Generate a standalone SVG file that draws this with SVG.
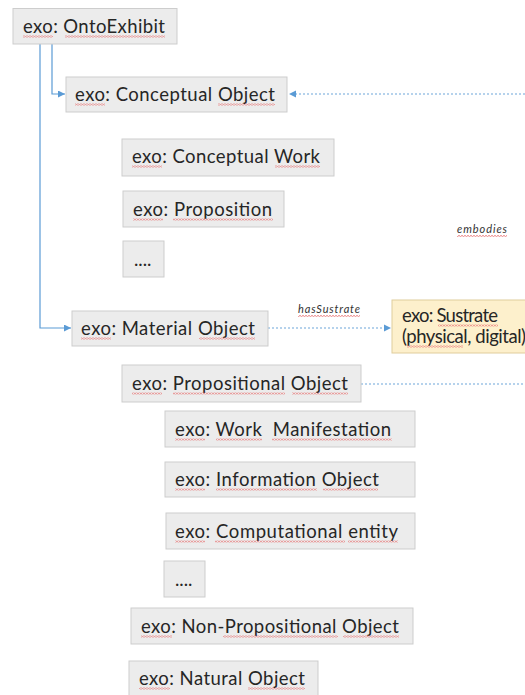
<svg xmlns="http://www.w3.org/2000/svg" width="525" height="695" viewBox="0 0 525 695">
  <style>
    .box { fill: #ececec; stroke: #cdcdcd; stroke-width: 1; }
    .note { fill: #fdf0cc; stroke: #e0cd9c; stroke-width: 1; }
    .lbl { font-family: "Lato", "Liberation Sans", sans-serif; font-size: 18.5px; fill: #262626; }
    .rel { font-family: "Lato", "Liberation Sans", sans-serif; font-size: 11px; font-style: italic; fill: #333333; }
    .sq { fill: url(#wave); }
    .link { fill: none; stroke: #5b9bd5; stroke-width: 1.2; }
    .dot { fill: none; stroke: #9dc3e6; stroke-width: 1.5; stroke-dasharray: 2 2; }
  </style>
  <defs>
    <marker id="tip" viewBox="0 0 10 10" refX="10" refY="5" markerWidth="7" markerHeight="7" markerUnits="userSpaceOnUse" orient="auto">
      <path d="M0,0 L10,5 L0,10 z" fill="#5b9bd5"/>
    </marker>
    <!-- proofing squiggle under flagged words -->
    <pattern id="wave" width="3" height="2" patternUnits="userSpaceOnUse">
      <path d="M0,1.6 L1.5,0.4 L3,1.6" fill="none" stroke="#e87a7a" stroke-width="1"/>
    </pattern>
  </defs>
  <rect width="525" height="695" fill="#ffffff"/>

  <!-- connectors -->
  <g id="connectors">
    <path class="link" d="M52,44 V94 H65" marker-end="url(#tip)"/>
    <path class="link" d="M40,44 V328 H71" marker-end="url(#tip)"/>
    <path class="dot" d="M525,94 H296"/>
    <path d="M289,94 l7,-3.5 v7 z" fill="#5b9bd5"/>
    <path class="dot" d="M268,328 H384"/>
    <path d="M391,328 l-7,-3.5 v7 z" fill="#5b9bd5"/>
    <path class="dot" d="M361,384 H525"/>
    <text class="rel" x="298" y="313" textLength="62">hasSustrate</text>
    <rect class="sq" x="298" y="315" width="62" height="2"/>
    <text class="rel" x="457" y="233" textLength="50">embodies</text>
    <rect class="sq" x="457" y="235" width="50" height="2"/>
  </g>

  <g id="onto-exhibit">
    <rect class="box" x="13" y="8.5" width="164" height="35.5"/>
    <text class="lbl" x="23" y="33" textLength="142">exo: OntoExhibit</text>
    <rect class="sq" x="23" y="35.5" width="30" height="2"/>
    <rect class="sq" x="65" y="35.5" width="100" height="2"/>
  </g>

  <g id="conceptual-object">
    <rect class="box" x="66" y="77" width="221" height="35"/>
    <text class="lbl" x="75" y="101" textLength="200">exo: Conceptual Object</text>
    <rect class="sq" x="75" y="103.5" width="30" height="2"/>
    <rect class="sq" x="218" y="103.5" width="57" height="2"/>
  </g>

  <g id="conceptual-work">
    <rect class="box" x="122" y="139" width="212" height="37"/>
    <text class="lbl" x="132" y="163" textLength="188">exo: Conceptual Work</text>
    <rect class="sq" x="132" y="165.5" width="30" height="2"/>
    <rect class="sq" x="275" y="165.5" width="45" height="2"/>
  </g>

  <g id="proposition">
    <rect class="box" x="123" y="191" width="161" height="36"/>
    <text class="lbl" x="133" y="216" textLength="139">exo: Proposition</text>
    <rect class="sq" x="133" y="218.5" width="30" height="2"/>
    <rect class="sq" x="173" y="218.5" width="100" height="2"/>
  </g>

  <g id="conceptual-more">
    <rect class="box" x="123" y="241" width="41" height="36"/>
    <text class="lbl" x="134" y="266">....</text>
  </g>

  <g id="material-object">
    <rect class="box" x="72" y="311" width="196" height="35"/>
    <text class="lbl" x="81" y="335" textLength="174">exo: Material Object</text>
    <rect class="sq" x="81" y="337.5" width="30" height="2"/>
    <rect class="sq" x="199" y="337.5" width="56" height="2"/>
  </g>

  <g id="sustrate">
    <rect class="note" x="392" y="300" width="140" height="53"/>
    <text class="lbl" x="402" y="322" textLength="96">exo: Sustrate</text>
    <rect class="sq" x="438" y="324.5" width="60" height="2"/>
    <text class="lbl" x="402" y="343" textLength="124">(physical, digital)</text>
    <rect class="sq" x="407" y="345.5" width="56" height="2"/>
  </g>

  <g id="propositional-object">
    <rect class="box" x="122" y="365" width="239" height="37"/>
    <text class="lbl" x="132" y="390" textLength="216">exo: Propositional Object</text>
    <rect class="sq" x="132" y="392.5" width="30" height="2"/>
    <rect class="sq" x="173" y="392.5" width="112" height="2"/>
    <rect class="sq" x="292" y="392.5" width="56" height="2"/>
  </g>

  <g id="work-manifestation">
    <rect class="box" x="165" y="411" width="250" height="36"/>
    <text class="lbl" x="175" y="436" textLength="216" xml:space="preserve">exo: Work  Manifestation</text>
    <rect class="sq" x="175" y="438.5" width="30" height="2"/>
    <rect class="sq" x="216" y="438.5" width="46" height="2"/>
    <rect class="sq" x="272" y="438.5" width="120" height="2"/>
  </g>

  <g id="information-object">
    <rect class="box" x="165" y="462" width="250" height="35"/>
    <text class="lbl" x="175" y="486" textLength="204">exo: Information Object</text>
    <rect class="sq" x="175" y="488.5" width="30" height="2"/>
    <rect class="sq" x="216" y="488.5" width="101" height="2"/>
    <rect class="sq" x="323" y="488.5" width="55" height="2"/>
  </g>

  <g id="computational-entity">
    <rect class="box" x="166" y="513" width="249" height="36"/>
    <text class="lbl" x="175" y="538" textLength="223">exo: Computational entity</text>
    <rect class="sq" x="175" y="540.5" width="30" height="2"/>
    <rect class="sq" x="215" y="540.5" width="130" height="2"/>
    <rect class="sq" x="348" y="540.5" width="50" height="2"/>
  </g>

  <g id="propositional-more">
    <rect class="box" x="164" y="561" width="41" height="36"/>
    <text class="lbl" x="175" y="586">....</text>
  </g>

  <g id="non-propositional-object">
    <rect class="box" x="131" y="608" width="282" height="36"/>
    <text class="lbl" x="141" y="633" textLength="258">exo: Non-Propositional Object</text>
    <rect class="sq" x="141" y="635.5" width="31" height="2"/>
    <rect class="sq" x="223" y="635.5" width="115" height="2"/>
    <rect class="sq" x="343" y="635.5" width="56" height="2"/>
  </g>

  <g id="natural-object">
    <rect class="box" x="129" y="661" width="189" height="40"/>
    <text class="lbl" x="139" y="685" textLength="166">exo: Natural Object</text>
    <rect class="sq" x="139" y="687.5" width="31" height="2"/>
    <rect class="sq" x="248" y="687.5" width="57" height="2"/>
  </g>
</svg>
